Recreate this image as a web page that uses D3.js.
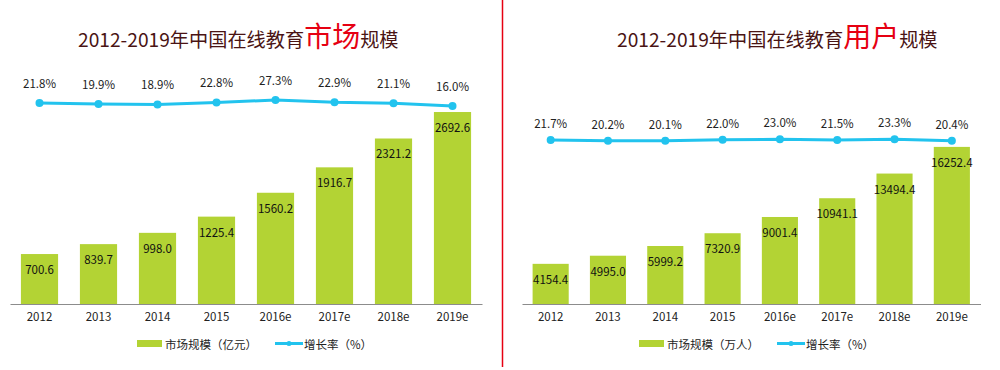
<!DOCTYPE html>
<html><head><meta charset="utf-8">
<script src="https://cdn.jsdelivr.net/npm/d3@7/dist/d3.min.js"></script>
<style>
html,body{margin:0;padding:0;background:#fff;}
text{font-family:"Noto Sans CJK SC","Noto Sans",sans-serif;}
</style></head>
<body>
<svg id="c" width="1000" height="370"></svg>
<script>
const years = ["2012","2013","2014","2015","2016e","2017e","2018e","2019e"];
const marketSize = [700.6, 839.7, 998.0, 1225.4, 1560.2, 1916.7, 2321.2, 2692.6];
const marketGrowth = [21.8, 19.9, 18.9, 22.8, 27.3, 22.9, 21.1, 16.0];
const userSize = [4154.4, 4995.0, 5999.2, 7320.9, 9001.4, 10941.1, 13494.4, 16252.4];
const userGrowth = [21.7, 20.2, 20.1, 22.0, 23.0, 21.5, 23.3, 20.4];
const titleLeft = ["2012-2019年中国在线教育", "市场", "规模"];
const titleRight = ["2012-2019年中国在线教育", "用户", "规模"];
const legendLeft = ["市场规模（亿元）", "增长率（%）"];
const legendRight = ["市场规模（万人）", "增长率（%）"];

const svg = d3.select("#c");
const BAR = "#b3d334", LINE = "#22c3ee", TITLE = "#4a1414", RED = "#e60012";

function drawChart(o) {
  const g = svg.append("g");
  const x = d3.scaleBand().domain(years).range([o.x0, o.x1]).paddingInner(0.37).paddingOuter(0.185);
  const y = d3.scaleLinear().domain([0, o.barMax]).range([304, o.barTop]);
  const yl = d3.scaleLinear().domain([0, 30]).range([o.lineBase, o.lineBase - 15.9]);

  // title
  const t = g.append("text").attr("x", o.titleX).attr("y", 47).attr("fill", TITLE).style("font-size", "19.2px");
  t.append("tspan").text(o.title[0]);
  t.append("tspan").text(o.title[1]).attr("fill", RED).style("font-size", "28px");
  t.append("tspan").text(o.title[2]);

  // bars
  g.selectAll("rect.bar").data(o.bars).join("rect")
    .attr("x", (d, i) => x(years[i])).attr("width", x.bandwidth())
    .attr("y", d => y(d)).attr("height", d => y(0) - y(d)).attr("fill", BAR);
  g.selectAll("text.val").data(o.bars).join("text")
    .attr("x", (d, i) => x(years[i]) + x.bandwidth() / 2).attr("y", d => y(d) + 15)
    .attr("text-anchor", "middle").attr("dominant-baseline", "central")
    .style("font-size", "11.5px").attr("fill", "#111").text(d => d.toFixed(1));

  // axis
  const ax = g.append("g").attr("transform", "translate(0,304)")
    .call(d3.axisBottom(x).tickSize(0).tickPadding(9));
  ax.select(".domain").attr("stroke", "#8c8c8c").attr("stroke-width", 1.2);
  ax.selectAll("text").style("font-size", "11.5px").attr("fill", "#222")
    .style("font-family", "\"Noto Sans CJK SC\",sans-serif");

  // line
  const line = d3.line().x((d, i) => x(years[i]) + x.bandwidth() / 2).y(d => yl(d));
  g.append("path").datum(o.growth).attr("d", line).attr("fill", "none")
    .attr("stroke", LINE).attr("stroke-width", 3);
  g.selectAll("circle.pt").data(o.growth).join("circle")
    .attr("cx", (d, i) => x(years[i]) + x.bandwidth() / 2).attr("cy", d => yl(d))
    .attr("r", 4).attr("fill", LINE);
  g.selectAll("text.pct").data(o.growth).join("text")
    .attr("x", (d, i) => x(years[i]) + x.bandwidth() / 2).attr("y", d => yl(d) - o.pctOff)
    .attr("text-anchor", "middle").attr("dominant-baseline", "central")
    .style("font-size", "11.5px").attr("fill", "#222").text(d => d.toFixed(1) + "%");

  // legend
  const L = g.append("g").attr("transform", `translate(${o.legX},343.5)`);
  L.append("rect").attr("x", 0).attr("y", -3.5).attr("width", 25).attr("height", 7).attr("fill", BAR);
  const lt1 = L.append("text").attr("x", 28).attr("y", 0).attr("dominant-baseline", "central")
    .style("font-size", "11.5px").attr("fill", "#222").text(o.legend[0]);
  const w1 = lt1.node().getComputedTextLength();
  const lx = 28 + w1 + 18;
  L.append("line").attr("x1", lx).attr("x2", lx + 28).attr("y1", 0).attr("y2", 0)
    .attr("stroke", LINE).attr("stroke-width", 3);
  L.append("circle").attr("cx", lx + 14).attr("cy", 0).attr("r", 2.5).attr("fill", LINE);
  L.append("text").attr("x", lx + 29).attr("y", 0).attr("dominant-baseline", "central")
    .style("font-size", "11.5px").attr("fill", "#222").text(o.legend[1]);
}

drawChart({x0: 10, x1: 482, barMax: 3000, barTop: 90.1, lineBase: 114.5, bars: marketSize,
  growth: marketGrowth, title: titleLeft, titleX: 78, pctOff: 20, legend: legendLeft, legX: 137});
drawChart({x0: 522, x1: 980.5, barMax: 18000, barTop: 130, lineBase: 151.5, bars: userSize,
  growth: userGrowth, title: titleRight, titleX: 617, pctOff: 17, legend: legendRight, legX: 639});

svg.append("line").attr("x1", 502.5).attr("x2", 502.5).attr("y1", 0).attr("y2", 367)
  .attr("stroke", RED).attr("stroke-width", 1.5);
</script>
</body></html>
